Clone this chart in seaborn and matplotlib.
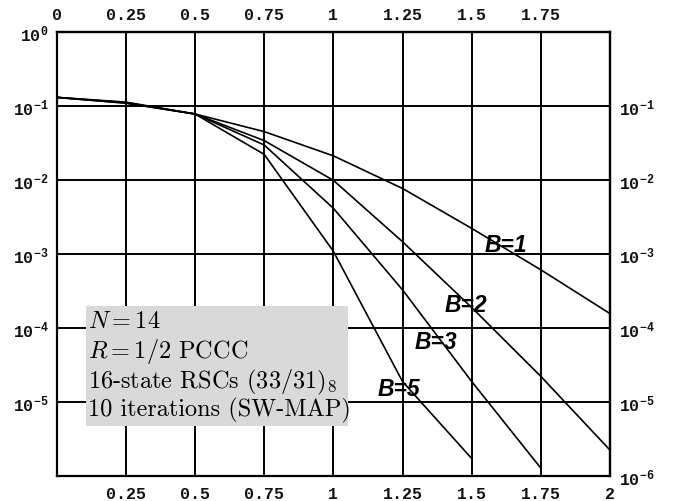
import numpy as np
import pandas as pd
import matplotlib
matplotlib.use("Agg")
import matplotlib.pyplot as plt
import seaborn as sns
from matplotlib.patches import Rectangle
from matplotlib.ticker import FixedLocator, FixedFormatter, NullLocator

# ---- data ----
snr = [0.0, 0.25, 0.5, 0.75, 1.0, 1.25, 1.5, 1.75, 2.0]
ber_b1 = [0.132, 0.114, 0.0787, 0.0455, 0.0214, 7.76e-3, 2.24e-3, 6.17e-4, 1.58e-4]
ber_b2 = [0.132, 0.112, 0.0787, 0.0344, 0.0100, 1.48e-3, 1.91e-4, 2.24e-5, 2.26e-6]
ber_b3 = [0.132, 0.111, 0.0787, 0.0300, 4.19e-3, 3.31e-4, 1.91e-5, 1.29e-6]
ber_b5 = [0.132, 0.110, 0.0787, 0.0224, 1.10e-3, 1.91e-5, 1.74e-6]
series_names = ["B=1", "B=2", "B=3", "B=5"]
series_vals = [ber_b1, ber_b2, ber_b3, ber_b5]
label_pos = {"B=1": (1.547, 10 ** -2.874), "B=2": (1.402, 10 ** -3.672),
             "B=3": (1.293, 10 ** -4.172), "B=5": (1.159, 10 ** -4.82)}

x_bottom_ticks = [0.25, 0.5, 0.75, 1, 1.25, 1.5, 1.75, 2]
x_bottom_labels = ["0.25", "0.5", "0.75", "1", "1.25", "1.5", "1.75", "2"]
x_top_ticks = [0, 0.25, 0.5, 0.75, 1, 1.25, 1.5, 1.75]
x_top_labels = ["0", "0.25", "0.5", "0.75", "1", "1.25", "1.5", "1.75"]
y_left_exps = [0, -1, -2, -3, -4, -5]
y_right_exps = [-1, -2, -3, -4, -5, -6]

info_lines = [r"$N = 14$", r"$R = 1/2$ PCCC", r"16-state RSCs $(33/31)_8$",
              "10 iterations (SW-MAP)"]

rows = []
for name, vals in zip(series_names, series_vals):
    for xv, yv in zip(snr, vals):
        rows.append({"x": xv, "ber": yv, "B": name})
df = pd.DataFrame(rows)

sns.set_style("white")
plt.rcParams["text.color"] = "black"
mono = "Liberation Mono"

fig = plt.figure(figsize=(6.74, 5.02), dpi=100)
W, H = 674, 502
L, R, T, Bt = 56.7, 610.0, 33.3, 477.3
ax = fig.add_axes([L / W, 1 - Bt / H, (R - L) / W, (Bt - T) / H])

sns.lineplot(data=df, x="x", y="ber", hue="B", units="B", estimator=None,
             palette={n: "black" for n in series_names}, legend=False,
             linewidth=1.2, ax=ax, zorder=3)
ax.set_yscale("log")
ax.set_xlim(0, 2)
ax.set_ylim(1e-6, 1)
ax.set_xlabel("")
ax.set_ylabel("")

ax.xaxis.set_major_locator(FixedLocator(x_bottom_ticks))
ax.xaxis.set_major_formatter(FixedFormatter(x_bottom_labels))
ax.yaxis.set_major_locator(FixedLocator([10.0 ** e for e in y_left_exps]))
ax.yaxis.set_major_formatter(FixedFormatter([r"$\mathregular{10^{%d}}$" % e for e in y_left_exps]))
ax.yaxis.set_minor_locator(NullLocator())
ax.xaxis.set_minor_locator(NullLocator())
ax.tick_params(axis="x", length=0, pad=7, labelsize=12)
ax.tick_params(axis="y", length=0, pad=6, labelsize=12)

# grid lines at every 0.25 and every decade
for gx in [0.25, 0.5, 0.75, 1, 1.25, 1.5, 1.75]:
    ax.axvline(gx, color="black", linewidth=1.4, zorder=1)
for e in range(-5, 0):
    ax.axhline(10.0 ** e, color="black", linewidth=1.4, zorder=1)

for s in ax.spines.values():
    s.set_color("black")
    s.set_linewidth(1.6)

top = ax.secondary_xaxis("top")
top.set_xticks(x_top_ticks)
top.set_xticklabels(x_top_labels)
top.tick_params(length=0, pad=7.5, labelsize=12)
top.spines["top"].set_linewidth(1.6)

right = ax.secondary_yaxis("right")
right.set_yticks([10.0 ** e for e in y_right_exps])
right.set_yticklabels([r"$\mathregular{10^{%d}}$" % e for e in y_right_exps])
right.yaxis.set_minor_locator(NullLocator())
right.tick_params(length=0, pad=6.5, labelsize=12)
right.spines["right"].set_linewidth(1.6)

for a in (ax.xaxis, ax.yaxis, top.xaxis, right.yaxis):
    for lbl in a.get_ticklabels():
        lbl.set_fontfamily(mono)
        lbl.set_fontweight("bold")
        lbl.set_color("#111111")

# curve labels
for name, (lx, ly) in label_pos.items():
    ax.text(lx, ly, name, fontsize=16.5, fontweight="bold", fontstyle="italic",
            family="Liberation Sans", ha="left", va="center", zorder=5,
            color="black")

# info box (pixel geometry converted to axes fraction)
def ax_frac(px, py):
    return ((px - L) / (R - L), (Bt - py) / (Bt - T))

bx0, by0 = ax_frac(86, 427)
bx1, by1 = ax_frac(348, 307)
ax.add_patch(Rectangle((bx0, by0), bx1 - bx0, by1 - by0, transform=ax.transAxes,
                       facecolor="#d9d9d9", edgecolor="none", zorder=4))
baselines = [328, 358, 388, 416]
for txt, py in zip(info_lines, baselines):
    tx, ty = ax_frac(87.5, py)
    ax.text(tx, ty, txt, transform=ax.transAxes, fontsize=17.5, family="cmr10",
            math_fontfamily="cm", ha="left", va="baseline", zorder=6, color="black")

fig.savefig("out.png", dpi=100)
